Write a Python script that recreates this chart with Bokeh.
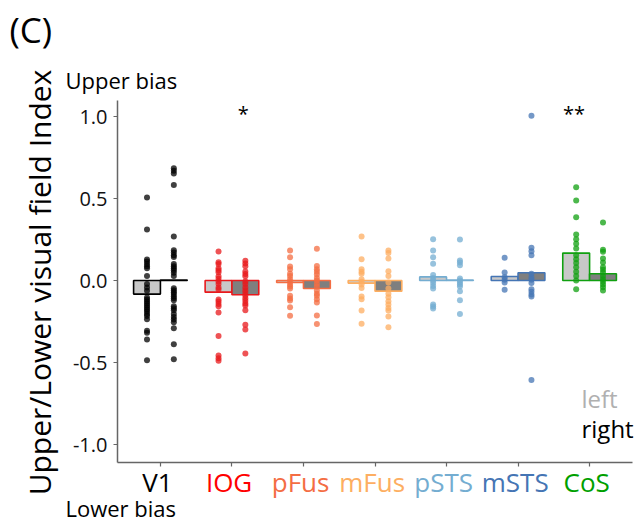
import math
from bokeh.plotting import figure
from bokeh.models import Label, FixedTicker, Range1d, ColumnDataSource
from bokeh.core.properties import value
from bokeh.embed import file_html
from bokeh.resources import INLINE

regions = ["V1", "IOG", "pFus", "mFus", "pSTS", "mSTS", "CoS"]
colors = ["#000000", "#E8191C", "#F46D43", "#FDAE61", "#74ADD1", "#4575B4", "#10A010"]
label_colors = ["#000000", "#FF0000", "#F46D43", "#FDAE61", "#74ADD1", "#4575B4", "#00A000"]

left_bar = [-0.083, -0.071, -0.012, -0.016, 0.022, 0.024, 0.167]
right_bar = [0.003, -0.087, -0.049, -0.065, 0.002, 0.047, 0.041]

v1_left = [0.506, 0.311, 0.128, 0.116, 0.10, 0.087, 0.075, 0.028, -0.022, -0.043, -0.063, -0.104,
           -0.116, -0.128, -0.14, -0.152, -0.165, -0.177, -0.189, -0.205, -0.217, -0.236, -0.307,
           -0.319, -0.36, -0.486]
v1_right = [0.685, 0.669, 0.652, 0.583, 0.268, 0.185, 0.171, 0.154, 0.144, 0.10, 0.087, 0.075, 0.063,
            0.047, 0.028, -0.047, -0.059, -0.071, -0.083, -0.096, -0.108, -0.12, -0.157, -0.169,
            -0.181, -0.205, -0.222, -0.238, -0.254, -0.291, -0.388, -0.48]
iog_left = [0.177, 0.112, 0.10, 0.075, 0.063, 0.051, 0.026, 0.01, -0.006, -0.022, -0.043, -0.055,
            -0.116, -0.128, -0.144, -0.157, -0.195, -0.339, -0.457, -0.474, -0.49]
iog_right = [0.12, 0.104, 0.087, 0.055, 0.039, 0.026, -0.006, -0.022, -0.043, -0.059, -0.075, -0.091,
             -0.108, -0.124, -0.14, -0.152, -0.181, -0.27, -0.299, -0.445]
pfus_left = [0.183, 0.142, 0.085, 0.069, 0.041, 0.028, 0.008, -0.008, -0.024, -0.037, -0.049, -0.093,
             -0.11, -0.122, -0.163, -0.215]
pfus_right = [0.193, 0.089, 0.069, 0.053, 0.037, 0.016, 0.0, -0.02, -0.037, -0.061, -0.081, -0.093,
              -0.114, -0.134, -0.213, -0.266]
mfus_left = [0.268, 0.13, 0.069, 0.053, 0.041, 0.008, -0.008, -0.024, -0.045, -0.098, -0.114, -0.183,
             -0.264]
mfus_right = [0.183, 0.167, 0.134, 0.057, 0.028, -0.012, -0.049, -0.081, -0.102, -0.126, -0.146,
              -0.167, -0.183, -0.22, -0.285]
psts_left = [0.252, 0.183, 0.142, 0.102, 0.033, 0.016, 0.0, -0.016, -0.033, -0.049, -0.146, -0.159,
             -0.171]
psts_right = [0.25, 0.122, 0.11, 0.093, 0.012, 0.0, -0.012, -0.024, -0.037, -0.065, -0.12, -0.205]
msts_left = [0.138, 0.049, 0.02, 0.004, -0.012, -0.057]
msts_right = [1.004, 0.199, 0.179, 0.154, 0.041, 0.02, 0.004, -0.016, -0.053, -0.069, -0.085, -0.098,
              -0.606]
cos_left = [0.569, 0.488, 0.386, 0.28, 0.252, 0.224, 0.195, 0.154, 0.13, 0.106, 0.081, 0.053, 0.028,
            0.0, -0.053]
cos_right = [0.354, 0.187, 0.175, 0.134, 0.11, 0.081, 0.065, 0.049, 0.028, 0.008, -0.008, -0.024,
             -0.041, -0.061]

left_points = [v1_left, iog_left, pfus_left, mfus_left, psts_left, msts_left, cos_left]
right_points = [v1_right, iog_right, pfus_right, mfus_right, psts_right, msts_right, cos_right]

y_ticks = [-1.0, -0.5, 0.0, 0.5, 1.0]
y_tick_labels = ["-1.0", "-0.5", "0.0", "0.5", "1.0"]

# significance marks: (region index, side, text)
sig_marks = [(1, "right", "*"), (6, "left", "**")]

FONT = "Open Sans"
BW = 0.375
OFF = BW / 2

# geometry: the frame covers the whole canvas; axes sit at fixed data locations
W, H = 638, 525
X_LO, X_HI = 0.4, 7.6          # x extent of the axis line (data)
Y_LO, Y_HI = -1.11, 1.10       # y extent of the axis line (data)
AX_LEFT_PX, AX_RIGHT_PX = 117, 632
ZERO_PX, PX_PER_Y = 280, 164
PX_PER_X = (AX_RIGHT_PX - AX_LEFT_PX) / (X_HI - X_LO)


def sx(px):
    return X_LO + (px - AX_LEFT_PX) / PX_PER_X


def sy(py):
    return (ZERO_PX - py) / PX_PER_Y


p = figure(width=W, height=H, x_range=Range1d(sx(0), sx(W)), y_range=Range1d(sy(H), sy(0)),
           output_backend="svg", toolbar_location=None,
           min_border_left=0, min_border_right=0, min_border_top=0, min_border_bottom=0)
p.title.visible = False
p.xgrid.visible = False
p.ygrid.visible = False
p.outline_line_color = None
p.background_fill_color = "white"
p.border_fill_color = "white"

pos = list(range(1, len(regions) + 1))
bar_src = ColumnDataSource(dict(
    xl=[x - OFF for x in pos], xr=[x + OFF for x in pos],
    lt=left_bar, rt=right_bar, col=colors))
p.vbar(x="xl", top="lt", bottom=0, width=BW, source=bar_src, fill_color="#C8C8C8",
       line_color="col", line_width=1.6)
p.vbar(x="xr", top="rt", bottom=0, width=BW, source=bar_src, fill_color="#7F7F7F",
       line_color="col", line_width=1.6)

px, py, pc = [], [], []
for i, x in enumerate(pos):
    for v in left_points[i]:
        px.append(x - OFF); py.append(v); pc.append(colors[i])
    for v in right_points[i]:
        px.append(x + OFF); py.append(v); pc.append(colors[i])
p.scatter(x="x", y="y", color="c", source=ColumnDataSource(dict(x=px, y=py, c=pc)),
          size=6, fill_alpha=0.75, line_alpha=0)

# axes
for ax in (p.xaxis, p.yaxis):
    ax.axis_line_color = "#666666"
    ax.axis_line_width = 1.5
    ax.major_tick_line_color = "#666666"
    ax.major_tick_line_width = 1.2
    ax.major_tick_out = 4
    ax.major_tick_in = 0
    ax.minor_tick_line_color = None
p.xaxis.fixed_location = Y_LO
p.xaxis.bounds = (X_LO, X_HI)
p.xaxis.ticker = FixedTicker(ticks=pos)
p.xaxis.major_label_overrides = {x: "" for x in pos}
p.xaxis.major_label_text_font_size = "1px"
p.yaxis.fixed_location = X_LO
p.yaxis.bounds = (Y_LO, Y_HI)
p.yaxis.ticker = FixedTicker(ticks=y_ticks)
p.yaxis.major_label_overrides = {t: s for t, s in zip(y_ticks, y_tick_labels)}
p.yaxis.major_label_text_font = FONT
p.yaxis.major_label_text_font_size = "20px"
p.yaxis.major_label_text_color = "#111111"
p.yaxis.major_label_standoff = 6

# category labels
p.text(x=[x - 0.04 for x in pos], y=[sy(481)] * len(pos), text=regions, text_color=label_colors,
       text_align="center", text_baseline="middle", text_font=value(FONT),
       text_font_size="26px")

# significance
for idx, side, txt in sig_marks:
    xx = pos[idx] + (OFF if side == "right" else -OFF)
    p.add_layout(Label(x=xx - 0.03, y=1.02, text=txt, text_align="center", text_baseline="middle",
                       text_font=FONT, text_font_size="20px", text_color="#000000"))

p.add_layout(Label(x=sx(39), y=sy(282), text="Upper/Lower visual field Index", angle=math.pi / 2,
                   text_align="center", text_baseline="middle",
                   text_font=FONT, text_font_size="30px", text_color="#000000"))
p.add_layout(Label(x=sx(65), y=sy(79), text="Upper bias", text_align="left", text_baseline="middle",
                   text_font=FONT, text_font_size="22px", text_color="#000000"))
p.add_layout(Label(x=sx(65), y=sy(507), text="Lower bias", text_align="left", text_baseline="middle",
                   text_font=FONT, text_font_size="22px", text_color="#000000"))
p.add_layout(Label(x=sx(581), y=sy(398), text="left", text_align="left", text_baseline="middle",
                   text_font=FONT, text_font_size="24px", text_color="#B0B0B0"))
p.add_layout(Label(x=sx(581), y=sy(428), text="right", text_align="left", text_baseline="middle",
                   text_font=FONT, text_font_size="24px", text_color="#000000"))
p.add_layout(Label(x=sx(9), y=sy(29), text="(C)", text_align="left", text_baseline="middle",
                   text_font=FONT, text_font_size="35px", text_color="#000000"))

open("out.html", "w").write(file_html(p, INLINE))
